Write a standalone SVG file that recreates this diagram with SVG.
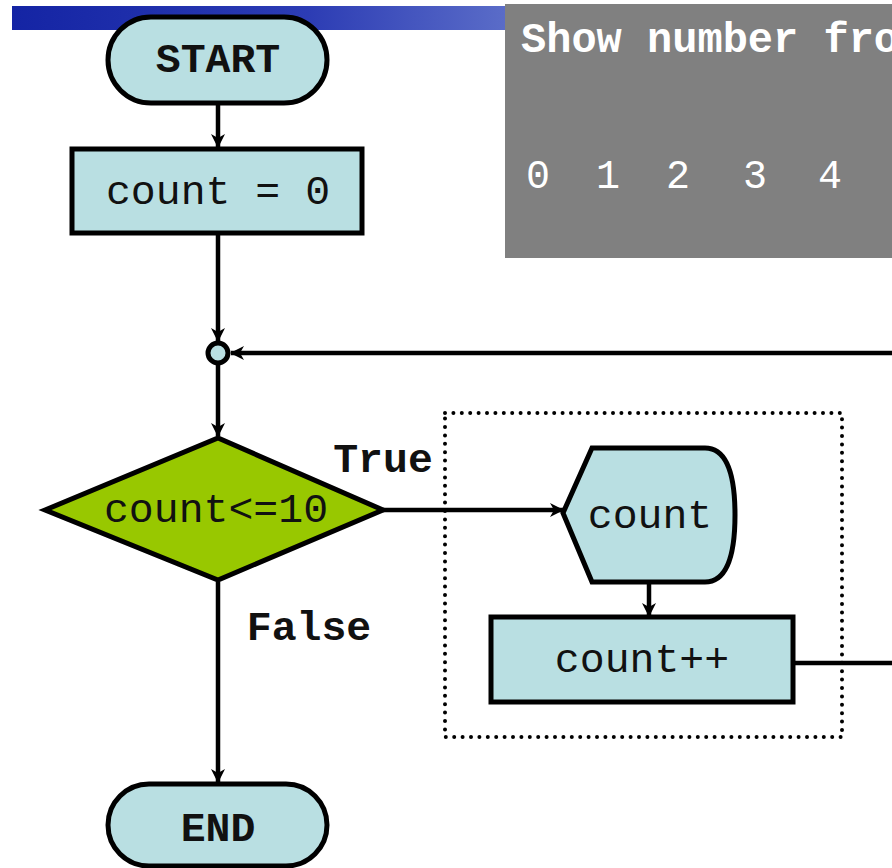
<svg xmlns="http://www.w3.org/2000/svg" width="892" height="868" viewBox="0 0 892 868">
  <style>
    .node { fill: #b9dfe2; stroke: #000; stroke-width: 5; }
    .dec { fill: #98c800; stroke: #000; stroke-width: 5; }
    .lbl { font-family: "Liberation Mono", "DejaVu Sans Mono", monospace; font-size: 41.5px; fill: #111; text-anchor: middle; }
    .bold { font-weight: bold; }
    .edge { fill: none; stroke: #000; stroke-width: 4.5; }
    .scr { font-family: "Liberation Mono", "DejaVu Sans Mono", monospace; font-size: 40px; fill: #fff; }
    .head { font-size: 42px; font-weight: bold; }
  </style>
  <defs>
    <linearGradient id="bar" x1="0" y1="0" x2="1" y2="0">
      <stop offset="0" stop-color="#1424a4"/>
      <stop offset="0.6" stop-color="#2c3cb4"/>
      <stop offset="1" stop-color="#5a6cc8"/>
    </linearGradient>
    <marker id="arr" viewBox="0 0 14 14" refX="13" refY="7" markerWidth="14" markerHeight="14" markerUnits="userSpaceOnUse" orient="auto">
      <path d="M0,0 L14,7 L0,14 L4,7 Z" fill="#000"/>
    </marker>
  </defs>

  <rect width="892" height="868" fill="#fff"/>

  <!-- title bar and output panel -->
  <rect x="12" y="6" width="493" height="24" fill="url(#bar)"/>
  <g id="output-panel">
    <rect x="505" y="4" width="387" height="254" fill="#808080"/>
    <text class="scr head" x="521" y="52">Show number fro</text>
    <text class="scr" y="188"><tspan x="526">0</tspan><tspan x="596">1</tspan><tspan x="666">2</tspan><tspan x="743">3</tspan><tspan x="818">4</tspan></text>
  </g>

  <!-- dotted loop body frame -->
  <rect id="loop-body" x="445" y="413" width="397" height="324" fill="none" stroke="#000" stroke-width="4" stroke-dasharray="0 8.4" stroke-linecap="round"/>

  <!-- connectors -->
  <g id="connectors">
    <line class="edge" x1="218" y1="103" x2="218" y2="147" marker-end="url(#arr)"/>
    <line class="edge" x1="218" y1="234" x2="218" y2="341" marker-end="url(#arr)"/>
    <line class="edge" x1="892" y1="353" x2="231" y2="353" marker-end="url(#arr)"/>
    <line class="edge" x1="218" y1="365" x2="218" y2="436" marker-end="url(#arr)"/>
    <line class="edge" x1="383" y1="510" x2="563" y2="510" marker-end="url(#arr)"/>
    <line class="edge" x1="649" y1="582" x2="649" y2="616" marker-end="url(#arr)"/>
    <line class="edge" x1="793" y1="663" x2="892" y2="663"/>
    <line class="edge" x1="218" y1="582" x2="218" y2="782" marker-end="url(#arr)"/>
    <text class="lbl bold" x="383" y="472">True</text>
    <text class="lbl bold" x="309" y="640">False</text>
  </g>

  <g id="start">
    <rect class="node" x="108" y="17" width="219" height="86" rx="43"/>
    <text class="lbl bold" x="218" y="72">START</text>
  </g>

  <g id="init">
    <rect class="node" x="72" y="149" width="290" height="84"/>
    <text class="lbl" x="218" y="204">count = 0</text>
  </g>

  <g id="junction">
    <circle class="node" cx="218" cy="353" r="10" stroke-width="4.5"/>
  </g>

  <g id="condition">
    <polygon class="dec" points="45,510 218,438 383,510 218,580"/>
    <text class="lbl" x="216" y="522">count&lt;=10</text>
  </g>

  <g id="show-count">
    <path class="node" d="M563,513 L592,448 L705,448 Q735,448 735,515 Q735,582 705,582 L592,582 Z"/>
    <text class="lbl" x="650" y="528">count</text>
  </g>

  <g id="increment">
    <rect class="node" x="491" y="617" width="302" height="85"/>
    <text class="lbl" x="642" y="672">count++</text>
  </g>

  <g id="end">
    <rect class="node" x="108" y="784" width="219" height="82" rx="41"/>
    <text class="lbl bold" x="218" y="841">END</text>
  </g>
</svg>
